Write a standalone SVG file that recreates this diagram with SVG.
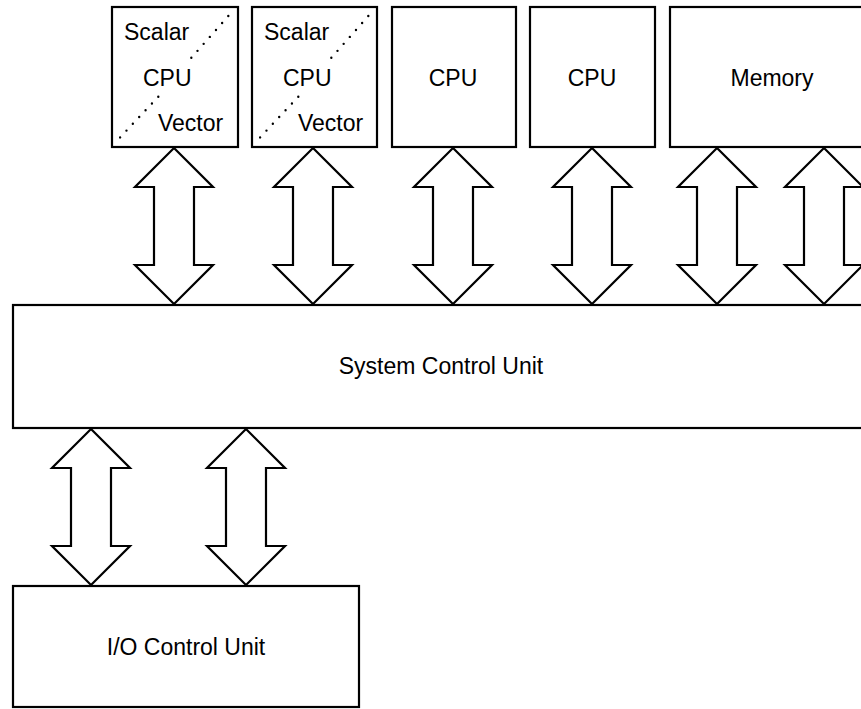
<svg xmlns="http://www.w3.org/2000/svg" width="861" height="709" viewBox="0 0 861 709">
<style>
.box{fill:#fff;stroke:#000;stroke-width:2.2}
.arr{fill:#fff;stroke:#000;stroke-width:2.2;stroke-linejoin:miter}
.t{font-family:"Liberation Sans",Arial,sans-serif;font-size:23px;fill:#000}
.m{text-anchor:middle}
.dot{stroke:#000;stroke-width:2.4;stroke-linecap:round;stroke-dasharray:0 9.3;fill:none}
</style>
<defs>
<path id="a1" d="M0,148 L39,187 L20,187 L20,265 L39,265 L0,304 L-39,265 L-20,265 L-20,187 L-39,187 Z"/>
<path id="a2" d="M0,429 L39,468 L20,468 L20,546 L39,546 L0,585 L-39,546 L-20,546 L-20,468 L-39,468 Z"/>
</defs>
<rect width="861" height="709" fill="#fff"/>
<g id="connectors">
<use href="#a1" class="arr" x="174"/>
<use href="#a1" class="arr" x="313"/>
<use href="#a1" class="arr" x="453"/>
<use href="#a1" class="arr" x="592"/>
<use href="#a1" class="arr" x="717"/>
<use href="#a1" class="arr" x="824"/>
<use href="#a2" class="arr" x="91"/>
<use href="#a2" class="arr" x="246"/>
</g>
<g id="cpu1">
<rect class="box" x="112" y="7" width="126" height="140"/>
<path class="dot" d="M228.3,16 L190,59.3"/>
<path class="dot" d="M158.3,96.7 L118.3,139.3"/>
<text class="t" x="124" y="40">Scalar</text>
<text class="t" x="143" y="86">CPU</text>
<text class="t" x="158" y="131">Vector</text>
</g>
<g id="cpu2">
<rect class="box" x="252" y="7" width="125" height="140"/>
<path class="dot" d="M368.3,16 L330,59.3"/>
<path class="dot" d="M298.3,96.7 L258.3,139.3"/>
<text class="t" x="264" y="40">Scalar</text>
<text class="t" x="283" y="86">CPU</text>
<text class="t" x="298" y="131">Vector</text>
</g>
<g id="cpu3">
<rect class="box" x="392" y="7" width="124" height="140"/>
<text class="t m" x="453" y="86">CPU</text>
</g>
<g id="cpu4">
<rect class="box" x="530" y="7" width="125" height="140"/>
<text class="t m" x="592" y="86">CPU</text>
</g>
<g id="memory">
<rect class="box" x="670" y="7" width="220" height="140"/>
<text class="t m" x="772" y="86">Memory</text>
</g>
<g id="scu">
<rect class="box" x="13" y="305" width="880" height="123"/>
<text class="t m" x="441" y="374">System Control Unit</text>
</g>
<g id="ioc">
<rect class="box" x="13" y="586" width="346" height="121"/>
<text class="t m" x="186" y="655">I/O Control Unit</text>
</g>
</svg>
